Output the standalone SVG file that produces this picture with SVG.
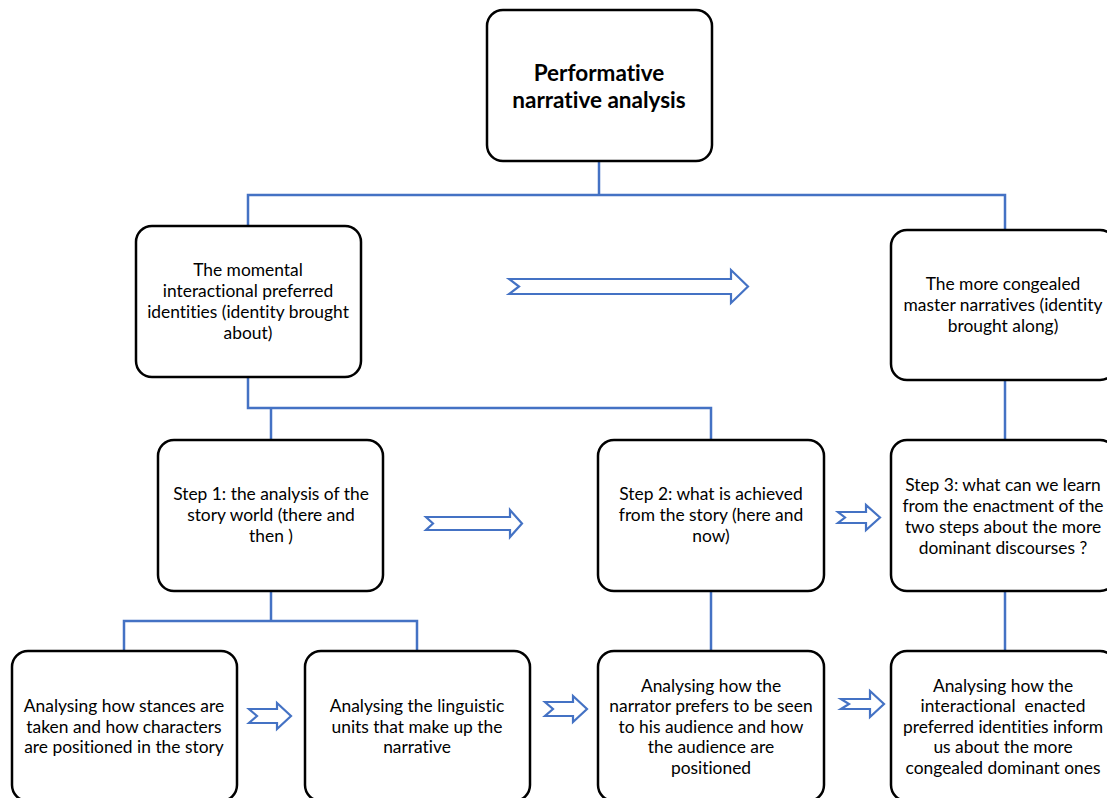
<svg xmlns="http://www.w3.org/2000/svg" width="1107" height="798" viewBox="0 0 1107 798">
<style>
.box{fill:#fff;stroke:#000;stroke-width:2.5}
.con{fill:none;stroke:#4472C4;stroke-width:2.5}
.arr{fill:#fff;stroke:#4472C4;stroke-width:2.2;stroke-linejoin:miter}
text{font-family:Lato,"Liberation Sans",sans-serif;font-size:17.4px;fill:#000;text-anchor:middle;font-variant-ligatures:none}
.title{font-weight:bold;font-size:22.5px}
</style>
<g id="connectors">
<polyline class="con" points="599,161 599,195"/>
<polyline class="con" points="248,226 248,195 1005,195 1005,230"/>
<polyline class="con" points="248,377 248,408 711,408 711,440"/>
<polyline class="con" points="271,408 271,440"/>
<polyline class="con" points="1005,380 1005,440"/>
<polyline class="con" points="271,591 271,621"/>
<polyline class="con" points="124,651 124,621 417,621 417,651"/>
<polyline class="con" points="711,591 711,651"/>
<polyline class="con" points="1005,591 1005,651"/>
<polygon class="arr" points="509,279 731,279 731,270 748,286.5 731,303 731,294 509,294 519,286.5"/>
<polygon class="arr" points="426,517 510,517 510,510 522,523.5 510,537 510,530 426,530 433,523.5"/>
<polygon class="arr" points="838,512 866,512 866,505 880,517.5 866,530 866,523 838,523 845,517.5"/>
<polygon class="arr" points="249,709 277,709 277,703 291,716 277,729 277,723 249,723 257,716"/>
<polygon class="arr" points="545,702 573,702 573,696 587,709 573,722 573,716 545,716 553,709"/>
<polygon class="arr" points="841,699 870,699 870,691 884,704 870,717 870,709 841,709 849,704"/>
</g>
<g id="n-title">
<rect class="box" x="487" y="10" width="225" height="151" rx="16"/>
<text class="title" x="599" y="81">Performative</text>
<text class="title" x="599" y="108">narrative analysis</text>
</g>
<g id="n-momental">
<rect class="box" x="136" y="226" width="225" height="151" rx="16"/>
<text x="248" y="276">The momental</text>
<text x="248" y="297">interactional preferred</text>
<text x="248" y="318">identities (identity brought</text>
<text x="248" y="339">about)</text>
</g>
<g id="n-congealed">
<rect class="box" x="891" y="230" width="225" height="150" rx="16"/>
<text x="1003" y="290">The more congealed</text>
<text x="1003" y="311">master narratives (identity</text>
<text x="1003" y="332">brought along)</text>
</g>
<g id="n-step1">
<rect class="box" x="158" y="440" width="225" height="151" rx="16"/>
<text x="271" y="500">Step 1: the analysis of the</text>
<text x="271" y="521">story world (there and</text>
<text x="271" y="542">then )</text>
</g>
<g id="n-step2">
<rect class="box" x="598" y="440" width="226" height="151" rx="16"/>
<text x="711" y="500">Step 2: what is achieved</text>
<text x="711" y="521">from the story (here and</text>
<text x="711" y="542">now)</text>
</g>
<g id="n-step3">
<rect class="box" x="891" y="440" width="225" height="151" rx="16"/>
<text x="1003" y="491">Step 3: what can we learn</text>
<text x="1003" y="512">from the enactment of the</text>
<text x="1003" y="533">two steps about the more</text>
<text x="1003" y="554">dominant discourses ?</text>
</g>
<g id="n-stances">
<rect class="box" x="12" y="651" width="225" height="150" rx="16"/>
<text x="124" y="712">Analysing how stances are</text>
<text x="124" y="733">taken and how characters</text>
<text x="124" y="753">are positioned in the story</text>
</g>
<g id="n-linguistic">
<rect class="box" x="305" y="651" width="225" height="150" rx="16"/>
<text x="417" y="712">Analysing the linguistic</text>
<text x="417" y="733">units that make up the</text>
<text x="417" y="753">narrative</text>
</g>
<g id="n-narrator">
<rect class="box" x="598" y="651" width="226" height="150" rx="16"/>
<text x="711" y="692">Analysing how the</text>
<text x="711" y="712">narrator prefers to be seen</text>
<text x="711" y="733">to his audience and how</text>
<text x="711" y="753">the audience are</text>
<text x="711" y="774">positioned</text>
</g>
<g id="n-enacted">
<rect class="box" x="891" y="651" width="225" height="150" rx="16"/>
<text x="1003" y="692">Analysing how the</text>
<text x="1003" y="712" xml:space="preserve">interactional  enacted</text>
<text x="1003" y="733">preferred identities inform</text>
<text x="1003" y="753">us about the more</text>
<text x="1003" y="774">congealed dominant ones</text>
</g>
</svg>
